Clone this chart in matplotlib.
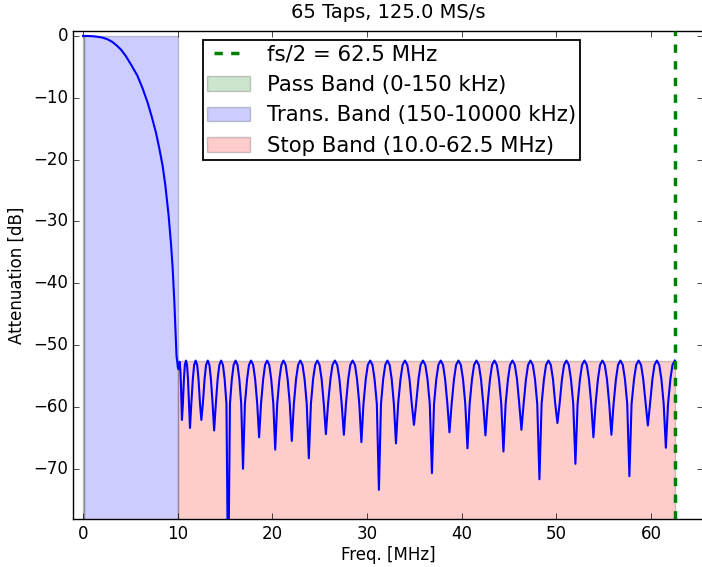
"""
FIR low-pass response, 65 taps at 125 MS/s.
Pass / transition / stop bands shaded, fs/2 marked.
"""

import numpy as np
import matplotlib
matplotlib.use('Agg')
import matplotlib.pyplot as plt
import matplotlib.patches as mpatches

plt.style.use('classic')

# =============================================================================
# 1. DATA
# =============================================================================

n_taps     = 65
fs_msps    = 125.0
pass_edge  = 0.15      # MHz
trans_edge = 10.0      # MHz
nyquist    = 62.5      # MHz
stop_level = -52.5     # dB, top of the stop band box

# passband + transition band roll-off
trans_f  = [0.0, 0.5, 1.0, 1.5, 2.05, 2.6, 3.1, 3.6, 4.0, 4.5, 5.1, 5.75,
            6.3, 6.82, 7.25, 7.7, 8.05, 8.41, 8.7, 9.04, 9.29, 9.46, 9.64,
            9.75, 9.88, 9.95, 10.02, 10.08, 10.15, 10.22, 10.3, 10.37]
trans_db = [0.0, -0.01, -0.05, -0.13, -0.27, -0.55, -0.97, -1.6, -2.2,
            -3.2, -4.7, -6.45, -8.5, -10.75, -13.0, -15.6, -18.1, -21.0,
            -24.2, -29.0, -33.5, -37.3, -42.7, -47.0, -51.8, -52.6, -53.6,
            -53.9, -53.1, -52.7, -54.5, -57.5]

# stop band side lobes, one lobe per line: null first, then the arch
stop_pts = [
    (10.45, -62.1), (10.55, -59.5), (10.66, -55.5), (10.76, -53.2), (10.875, -52.5), (10.99, -53.2), (11.09, -55.5), (11.20, -59.5),
    (11.30, -63.4), (11.44, -59.5), (11.60, -55.5), (11.74, -53.2), (11.90, -52.5), (12.06, -53.2), (12.20, -55.5), (12.36, -59.5),
    (12.50, -62.1), (12.66, -59.5), (12.84, -55.5), (13.00, -53.2), (13.175, -52.5), (13.35, -53.2), (13.51, -55.5), (13.69, -59.5),
    (13.85, -63.8), (14.03, -59.5), (14.22, -55.5), (14.40, -53.2), (14.59, -52.5), (14.78, -53.2), (14.96, -55.5), (15.15, -59.5),
    (15.33, -90.0), (15.52, -59.5), (15.72, -55.5), (15.91, -53.2), (16.115, -52.5), (16.32, -53.2), (16.51, -55.5), (16.71, -59.5),
    (16.90, -70.0), (17.10, -59.5), (17.33, -55.5), (17.53, -53.2), (17.75, -52.5), (17.97, -53.2), (18.18, -55.5), (18.40, -59.5),
    (18.60, -64.9), (18.80, -59.5), (19.03, -55.5), (19.23, -53.2), (19.45, -52.5), (19.67, -53.2), (19.88, -55.5), (20.10, -59.5),
    (20.30, -66.9), (20.51, -59.5), (20.74, -55.5), (20.95, -53.2), (21.175, -52.5), (21.40, -53.2), (21.61, -55.5), (21.84, -59.5),
    (22.05, -65.5), (22.27, -59.5), (22.50, -55.5), (22.72, -53.2), (22.95, -52.5), (23.18, -53.2), (23.40, -55.5), (23.63, -59.5),
    (23.85, -68.3), (24.07, -59.5), (24.30, -55.5), (24.52, -53.2), (24.75, -52.5), (24.98, -53.2), (25.20, -55.5), (25.43, -59.5),
    (25.65, -64.4), (25.88, -59.5), (26.13, -55.5), (26.35, -53.2), (26.60, -52.5), (26.85, -53.2), (27.08, -55.5), (27.32, -59.5),
    (27.55, -64.5), (27.77, -59.5), (28.01, -55.5), (28.23, -53.2), (28.475, -52.5), (28.72, -53.2), (28.94, -55.5), (29.18, -59.5),
    (29.40, -65.7), (29.62, -59.5), (29.86, -55.5), (30.08, -53.2), (30.325, -52.5), (30.57, -53.2), (30.79, -55.5), (31.03, -59.5),
    (31.25, -73.4), (31.47, -59.5), (31.70, -55.5), (31.92, -53.2), (32.15, -52.5), (32.38, -53.2), (32.60, -55.5), (32.83, -59.5),
    (33.05, -65.9), (33.28, -59.5), (33.53, -55.5), (33.75, -53.2), (34.00, -52.5), (34.25, -53.2), (34.48, -55.5), (34.72, -59.5),
    (34.95, -62.9), (35.18, -59.5), (35.43, -55.5), (35.65, -53.2), (35.90, -52.5), (36.15, -53.2), (36.38, -55.5), (36.62, -59.5),
    (36.85, -70.7), (37.07, -59.5), (37.31, -55.5), (37.53, -53.2), (37.775, -52.5), (38.02, -53.2), (38.24, -55.5), (38.48, -59.5),
    (38.70, -64.1), (38.93, -59.5), (39.18, -55.5), (39.40, -53.2), (39.65, -52.5), (39.90, -53.2), (40.13, -55.5), (40.37, -59.5),
    (40.60, -66.7), (40.83, -59.5), (41.08, -55.5), (41.30, -53.2), (41.55, -52.5), (41.80, -53.2), (42.03, -55.5), (42.27, -59.5),
    (42.50, -64.6), (42.73, -59.5), (42.98, -55.5), (43.20, -53.2), (43.45, -52.5), (43.70, -53.2), (43.93, -55.5), (44.17, -59.5),
    (44.40, -67.2), (44.63, -59.5), (44.88, -55.5), (45.10, -53.2), (45.35, -52.5), (45.60, -53.2), (45.83, -55.5), (46.07, -59.5),
    (46.30, -63.7), (46.53, -59.5), (46.78, -55.5), (47.00, -53.2), (47.25, -52.5), (47.50, -53.2), (47.73, -55.5), (47.97, -59.5),
    (48.20, -71.7), (48.43, -59.5), (48.68, -55.5), (48.90, -53.2), (49.15, -52.5), (49.40, -53.2), (49.63, -55.5), (49.87, -59.5),
    (50.10, -62.6), (50.33, -59.5), (50.58, -55.5), (50.80, -53.2), (51.05, -52.5), (51.30, -53.2), (51.53, -55.5), (51.77, -59.5),
    (52.00, -69.2), (52.23, -59.5), (52.48, -55.5), (52.70, -53.2), (52.95, -52.5), (53.20, -53.2), (53.43, -55.5), (53.67, -59.5),
    (53.90, -64.9), (54.13, -59.5), (54.38, -55.5), (54.60, -53.2), (54.85, -52.5), (55.10, -53.2), (55.33, -55.5), (55.57, -59.5),
    (55.80, -64.5), (56.03, -59.5), (56.28, -55.5), (56.50, -53.2), (56.75, -52.5), (57.00, -53.2), (57.23, -55.5), (57.47, -59.5),
    (57.70, -71.2), (57.93, -59.5), (58.19, -55.5), (58.42, -53.2), (58.675, -52.5), (58.93, -53.2), (59.16, -55.5), (59.42, -59.5),
    (59.65, -63.0), (59.88, -59.5), (60.13, -55.5), (60.35, -53.2), (60.60, -52.5), (60.85, -53.2), (61.08, -55.5), (61.32, -59.5),
    (61.55, -66.6), (61.78, -59.5), (62.03, -55.5), (62.25, -53.2), (62.50, -52.5),
]

stop_f, stop_db = zip(*stop_pts)
freq_mhz = np.array(trans_f + list(stop_f))
resp_db  = np.array(trans_db + list(stop_db))

# =============================================================================
# 2. PLOT
# =============================================================================

fig = plt.figure(figsize=(7.02, 5.67), dpi=100, facecolor='white')
ax = fig.add_axes([0.1047, 0.0838, 0.8971, 0.8616])

y_bot, y_top = -78.2, 0.8

# shaded bands (alpha applies to the edges too -> light grey outlines)
pass_patch = mpatches.Rectangle((0, -100), pass_edge, 100, facecolor='g',
                                edgecolor='k', alpha=0.2, lw=1.0,
                                label='Pass Band (0-150 kHz)')
trans_patch = mpatches.Rectangle((pass_edge, -100), trans_edge - pass_edge, 100,
                                 facecolor='b', edgecolor='k', alpha=0.2, lw=1.0,
                                 label='Trans. Band (150-10000 kHz)')
stop_patch = mpatches.Rectangle((trans_edge, -100), nyquist - trans_edge,
                                100 + stop_level, facecolor='r', edgecolor='k',
                                alpha=0.2, lw=1.0,
                                label='Stop Band (10.0-62.5 MHz)')
for p in (pass_patch, trans_patch, stop_patch):
    ax.add_patch(p)

ax.plot(freq_mhz, resp_db, color='b', lw=1.5, zorder=3)
nyq_line = ax.axvline(nyquist, color='g', ls='--', lw=2.5, zorder=4,
                      label='fs/2 = %.1f MHz' % nyquist)

ax.set_xlim(-1, 65.5)
ax.set_ylim(y_bot, y_top)
ax.set_xticks(range(0, 61, 10))
ax.set_yticks(range(-70, 1, 10))
ax.tick_params(labelsize=12)

ax.set_title('%d Taps, %.1f MS/s' % (n_taps, fs_msps), fontsize=14, pad=9)
ax.set_xlabel('Freq. [MHz]', fontsize=12, labelpad=2)
ax.set_ylabel('Attenuation [dB]', fontsize=12)

leg = ax.legend(handles=[nyq_line, pass_patch, trans_patch, stop_patch],
                loc='upper left', bbox_to_anchor=(0.289, 0.9295),
                bbox_transform=fig.transFigure, borderaxespad=0, fontsize=15.3,
                borderpad=0.2)
leg.get_frame().set_linewidth(1.3)

fig.savefig('out.png', dpi=100, facecolor='white')
